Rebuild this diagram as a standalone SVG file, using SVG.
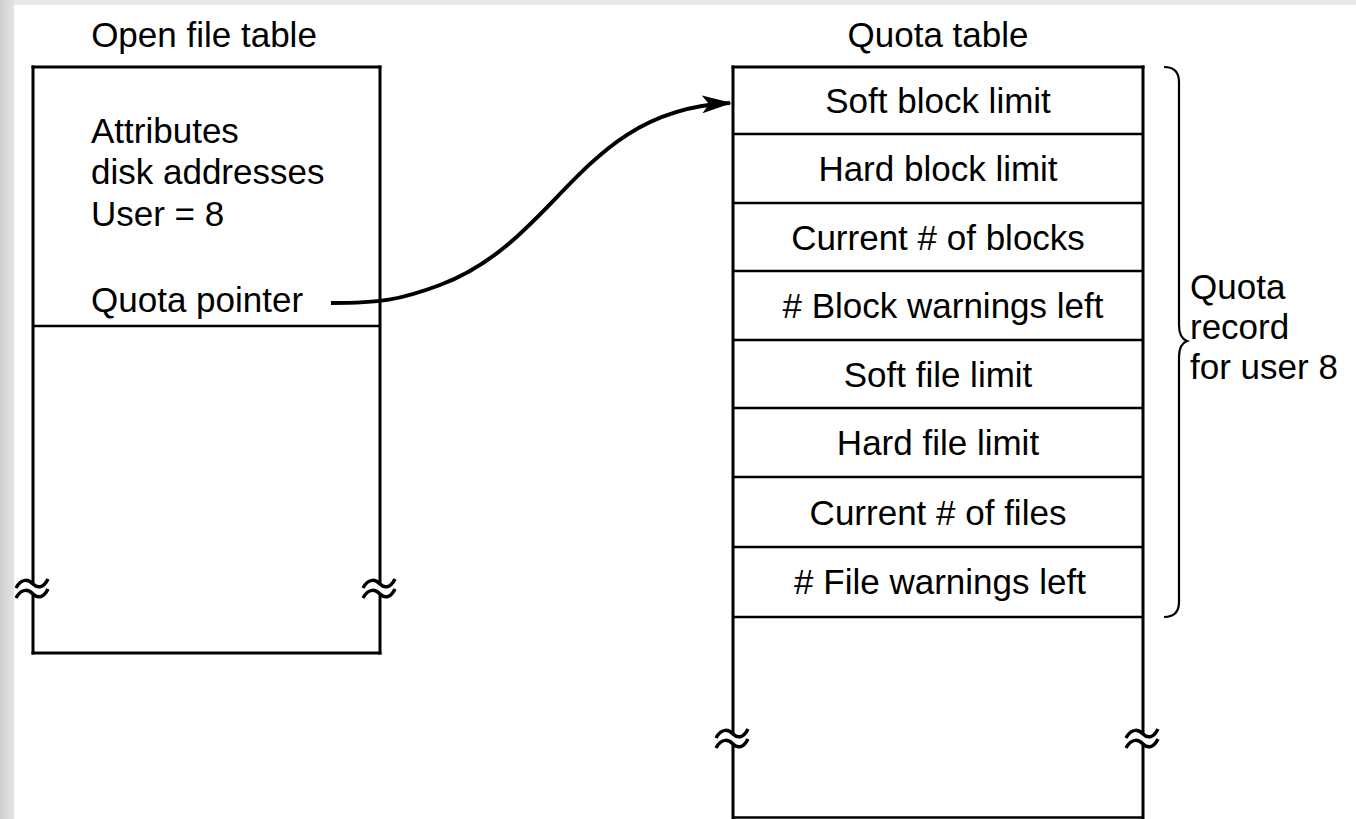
<svg xmlns="http://www.w3.org/2000/svg" width="1356" height="819" viewBox="0 0 1356 819">
<style>
  text { font-family: "Liberation Sans", Arial, sans-serif; font-size: 35px; fill: #000; }
  .c { text-anchor: middle; }
  .box { stroke: #000; stroke-width: 3; fill: none; }
  .row { stroke: #000; stroke-width: 2.5; fill: none; }
  .wave { stroke: #000; stroke-width: 3.5; fill: none; }
</style>
<defs>
  <linearGradient id="lg" x1="0" y1="0" x2="1" y2="0">
    <stop offset="0" stop-color="#cfcfcf"/>
    <stop offset="1" stop-color="#e4e4e4"/>
  </linearGradient>
  <path id="brk" d="M -17 -2 C -11 -13, -4 -10, 0 -6 S 10 -1, 15 -11 M -17 8 C -11 -3, -4 0, 0 4 S 10 9, 15 -1"/>
  <marker id="arrow" markerWidth="30" markerHeight="18" refX="28" refY="9" orient="auto" markerUnits="userSpaceOnUse">
    <path d="M0,0 L30,9 L0,18 L7,9 Z" fill="#000"/>
  </marker>
</defs>
<rect x="0" y="0" width="1356" height="819" fill="#fff"/>
<rect x="0" y="0" width="1356" height="5" fill="#e9e9e9"/>
<rect x="0" y="0" width="14" height="819" fill="url(#lg)"/>

<g id="open-file-table">
  <text x="204" y="47" class="c">Open file table</text>
  <line class="box" x1="31.5" y1="67" x2="381.5" y2="67"/>
  <line class="box" x1="31.5" y1="653" x2="381.5" y2="653"/>
  <line class="box" x1="33" y1="65.5" x2="33" y2="584"/>
  <line class="box" x1="33" y1="594" x2="33" y2="654.5"/>
  <line class="box" x1="380" y1="65.5" x2="380" y2="584"/>
  <line class="box" x1="380" y1="594" x2="380" y2="654.5"/>
  <use href="#brk" x="33" y="590" class="wave"/>
  <use href="#brk" x="380" y="590" class="wave"/>
  <line class="row" x1="33" y1="326" x2="380" y2="326"/>
  <text x="91" y="143">Attributes</text>
  <text x="91" y="184">disk addresses</text>
  <text x="91" y="226">User = 8</text>
  <text x="91" y="312">Quota pointer</text>
</g>

<g id="quota-table">
  <text x="938" y="47" class="c">Quota table</text>
  <line class="box" x1="731.5" y1="67" x2="1144.5" y2="67"/>
  <line class="row" x1="733" y1="817.5" x2="1143" y2="817.5"/>
  <line class="box" x1="733" y1="65.5" x2="733" y2="734"/>
  <line class="box" x1="733" y1="744" x2="733" y2="819"/>
  <line class="box" x1="1143" y1="65.5" x2="1143" y2="734"/>
  <line class="box" x1="1143" y1="744" x2="1143" y2="819"/>
  <use href="#brk" x="733" y="740" class="wave"/>
  <use href="#brk" x="1143" y="740" class="wave"/>
  <line class="row" x1="733" y1="134" x2="1143" y2="134"/>
  <line class="row" x1="733" y1="203" x2="1143" y2="203"/>
  <line class="row" x1="733" y1="271" x2="1143" y2="271"/>
  <line class="row" x1="733" y1="340" x2="1143" y2="340"/>
  <line class="row" x1="733" y1="408" x2="1143" y2="408"/>
  <line class="row" x1="733" y1="477" x2="1143" y2="477"/>
  <line class="row" x1="733" y1="547" x2="1143" y2="547"/>
  <line class="row" x1="733" y1="617" x2="1143" y2="617"/>
  <text x="938" y="113" class="c">Soft block limit</text>
  <text x="938" y="181" class="c">Hard block limit</text>
  <text x="938" y="250" class="c">Current # of blocks</text>
  <text x="943" y="318" class="c"># Block warnings left</text>
  <text x="938" y="387" class="c">Soft file limit</text>
  <text x="938" y="455" class="c">Hard file limit</text>
  <text x="938" y="525" class="c">Current # of files</text>
  <text x="940" y="594" class="c"># File warnings left</text>
</g>

<g id="quota-record">
  <path d="M 1164 67 Q 1179 67 1179 82 L 1179 325 Q 1179 338 1187 341 Q 1179 344 1179 357 L 1179 602 Q 1179 617 1164 617" stroke="#000" stroke-width="2.2" fill="none"/>
  <text x="1190" y="299">Quota</text>
  <text x="1190" y="339">record</text>
  <text x="1190" y="379">for user 8</text>
</g>

<g id="connectors">
  <path d="M 331 303 C 380 303, 400 300, 440 285 C 560 240, 580 110, 730 103" stroke="#000" stroke-width="4" fill="none" marker-end="url(#arrow)"/>
</g>
</svg>
